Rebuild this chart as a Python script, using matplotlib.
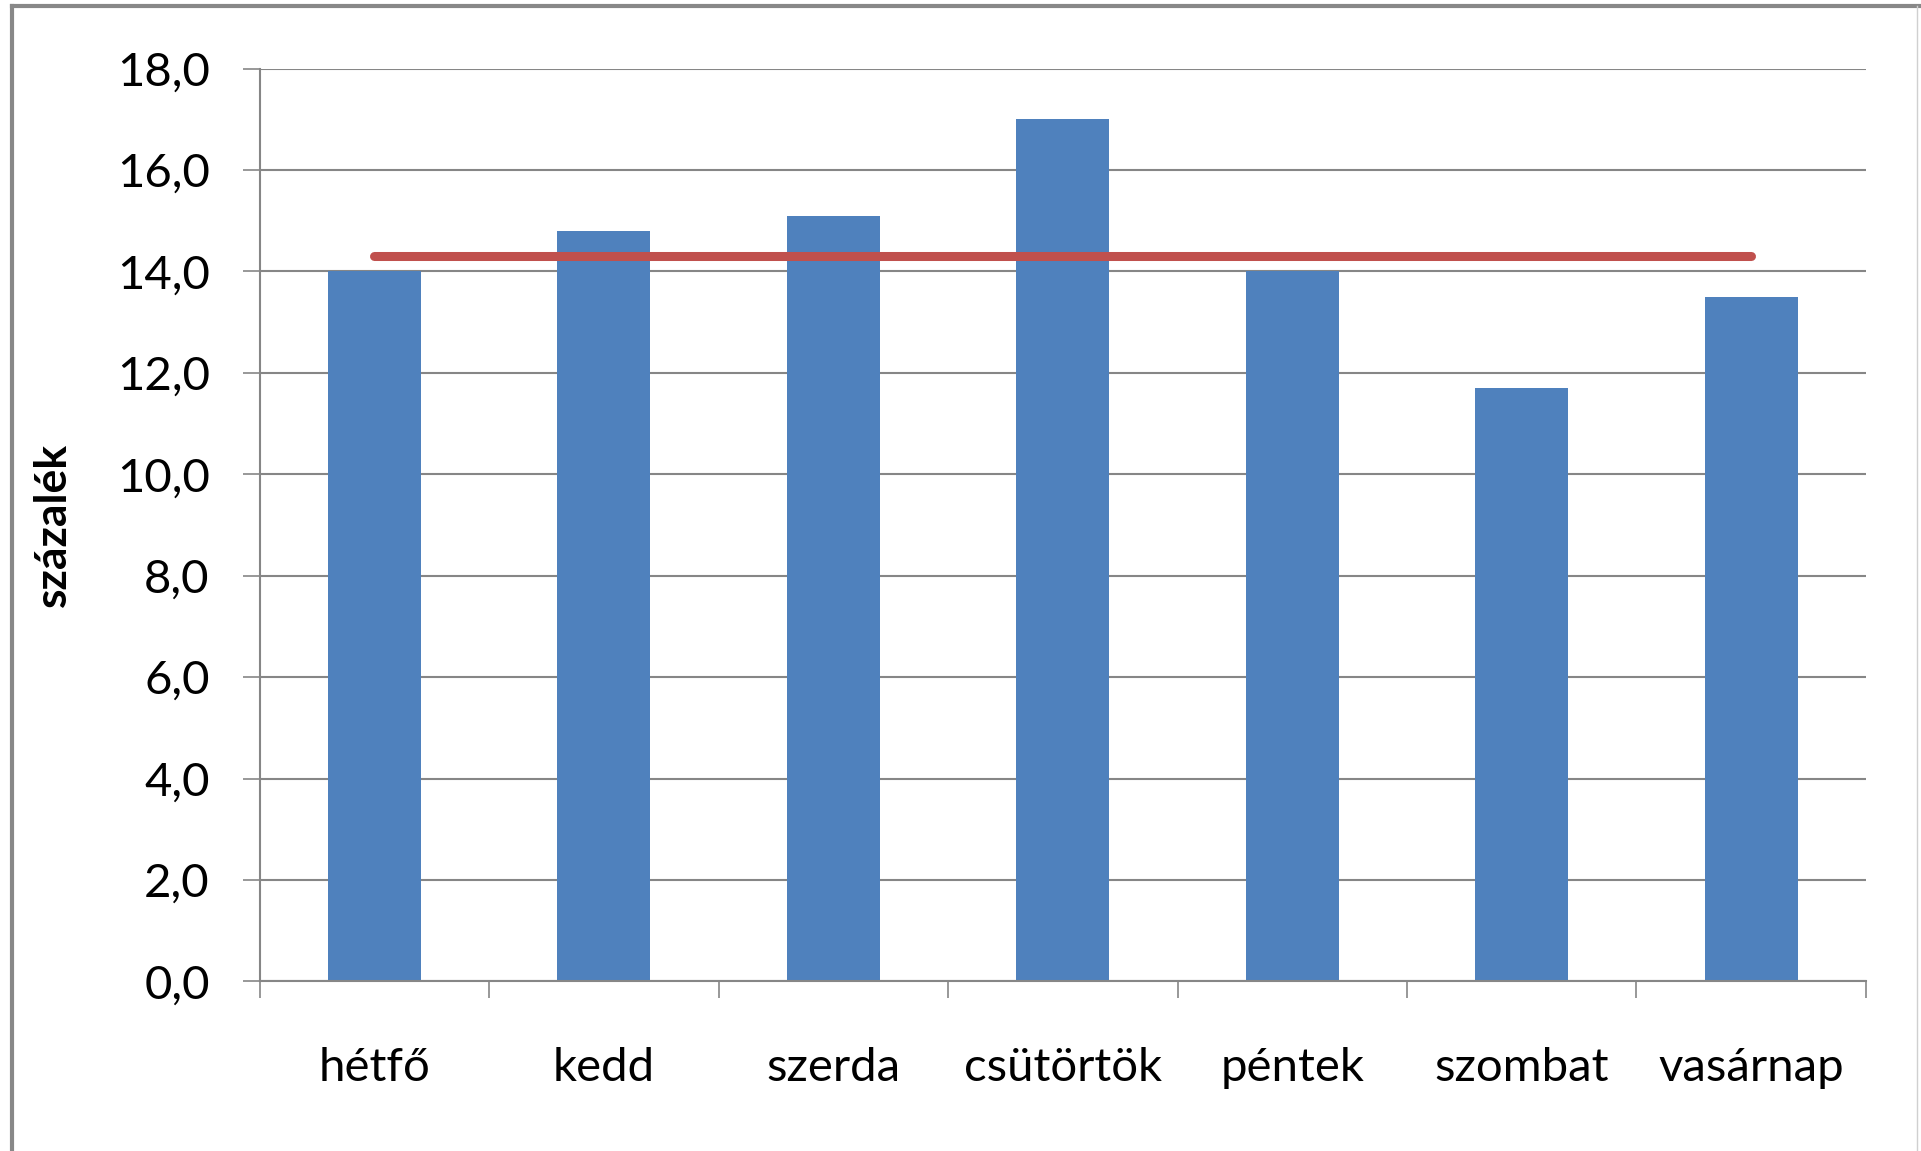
import matplotlib
matplotlib.use('Agg')
import matplotlib.pyplot as plt
from matplotlib.lines import Line2D
from matplotlib.ticker import FuncFormatter, FixedLocator

# Data (percent of cases per weekday)
days = ['hétfő', 'kedd', 'szerda', 'csütörtök', 'péntek', 'szombat', 'vasárnap']
percents = [14.0, 14.8, 15.1, 17.0, 14.0, 11.7, 13.5]
average = [14.3] * len(days)
y_ticks = [0, 2, 4, 6, 8, 10, 12, 14, 16, 18]

plt.rcParams['font.family'] = ['Lato', 'DejaVu Sans']

fig = plt.figure(figsize=(19.21, 11.51), dpi=100)
ax = fig.add_axes([0.1352, 0.1474, 0.8361, 0.7930])

x = list(range(len(days)))

# Bars and average line
ax.bar(x, percents, width=0.405, color='#4F81BD', zorder=2)
ax.plot(x, average, color='#C0504D', linewidth=6.5, solid_capstyle='round', zorder=3)

ax.set_xlim(-0.5, len(days) - 0.5)
ax.set_ylim(0, 18)

# y axis with comma decimals
ax.set_yticks(y_ticks)
ax.yaxis.set_major_formatter(FuncFormatter(lambda v, p: ('%.1f' % v).replace('.', ',')))
ax.yaxis.grid(True, color='#868686', linewidth=1.5, zorder=0)
ax.set_axisbelow(True)
ax.tick_params(axis='y', which='major', length=12, width=1.2, color='#868686',
               pad=24, labelsize=34, labelcolor='black')

# x axis: tick marks at category boundaries, labels at centres
ax.set_xticks(x)
ax.set_xticklabels(days)
ax.xaxis.set_minor_locator(FixedLocator([i - 0.5 for i in range(len(days) + 1)]))
ax.tick_params(axis='x', which='major', length=0, pad=47, labelsize=34)
ax.tick_params(axis='x', which='minor', length=12, width=1.2, color='#868686')

for side in ['top', 'right']:
    ax.spines[side].set_visible(False)
for side in ['left', 'bottom']:
    ax.spines[side].set_color('#868686')
    ax.spines[side].set_linewidth(1.5)

ax.set_ylabel('százalék', fontsize=32, fontweight='bold')
ax.yaxis.set_label_coords(-0.116, 0.5)

# Outer chart frame (thick left/top, thin right)
fig.add_artist(Line2D([0.0065, 0.0065], [0, 0.9948], color='#888888', linewidth=3))
fig.add_artist(Line2D([0.0065, 1.0], [0.9948, 0.9948], color='#888888', linewidth=3))
fig.add_artist(Line2D([0.998, 0.998], [0, 0.9948], color='#d0d0d0', linewidth=1))

fig.savefig('out.png', dpi=100)
